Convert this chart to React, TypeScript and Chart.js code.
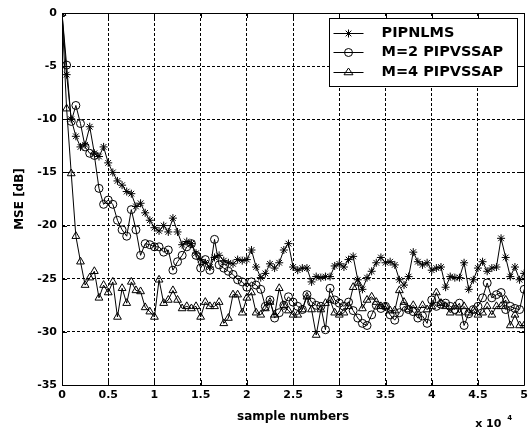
import { useEffect, useRef } from 'react';
import { Chart, registerables } from 'chart.js';

Chart.register(...registerables);

// sample numbers are in units of 10^4; one recorded point every 0.05 x 10^4 samples
const sampleStep = 0.05;

const xTickValues = [0, 0.5, 1, 1.5, 2, 2.5, 3, 3.5, 4, 4.5, 5];
const yTickValues = [-35, -30, -25, -20, -15, -10, -5, 0];

const seriesLabels = ['PIPNLMS', 'M=2 PIPVSSAP', 'M=4 PIPVSSAP'];

const pipnlms = [
  0, -5.8, -10, -11.6, -12.6, -12.4, -10.7, -13.2, -13.5, -12.6,
  -14.1, -15, -15.8, -16.2, -16.8, -17, -18.2, -17.9, -18.8, -19.5,
  -20.2, -20.5, -20, -20.6, -19.3, -20.6, -21.8, -21.5, -21.7, -22.6,
  -23.2, -23.5, -23.9, -23, -22.8, -23.3, -23.5, -23.6, -23.2, -23.3,
  -23.2, -22.3, -23.9, -24.9, -24.5, -23.6, -24, -23.5, -22.3, -21.7,
  -23.9, -24.2, -24, -24, -25.3, -24.8, -24.9, -24.8, -24.8, -23.8,
  -23.6, -23.9, -23.2, -22.9, -25.1, -26, -24.9, -24.3, -23.5, -23,
  -23.5, -23.4, -23.7, -25.1, -25.6, -24.8, -22.5, -23.4, -23.7, -23.5,
  -24.2, -24, -23.9, -25.8, -24.8, -24.9, -24.9, -23.5, -26, -25.1,
  -24, -23.4, -24.3, -24, -23.9, -21.2, -23, -24.8, -23.9, -25.1,
  -24.5,
];

const m2Pipvssap = [
  0, -4.9, -10.2, -8.7, -10.4, -12.6, -13.2, -13.4, -16.5, -18,
  -17.6, -18, -19.5, -20.4, -21, -18.5, -20.4, -22.8, -21.7, -21.8,
  -22, -22, -22.5, -22.3, -24.2, -23.4, -22.8, -22, -21.7, -22.8,
  -24, -23.2, -24.2, -21.3, -23.7, -24, -24.3, -24.6, -25.1, -25.3,
  -25.8, -25.3, -25.6, -26, -27.6, -27, -28.7, -28.2, -27.5, -26.7,
  -27.2, -27.6, -27.9, -26.5, -27.2, -27.5, -27.6, -29.8, -25.9, -27,
  -27.3, -27.6, -27.2, -28, -28.7, -29.2, -29.4, -28.4, -27.5, -27.8,
  -27.6, -28.4, -28.9, -28.2, -27.6, -27.9, -28.1, -28.7, -28.5, -29.2,
  -27, -27.6, -27.4, -27.3, -27.6, -27.9, -27.3, -29.4, -28.3, -27.9,
  -27.6, -26.8, -25.4, -26.8, -26.5, -26.3, -27.9, -27.6, -27.8, -27.9,
  -26,
];

const m4Pipvssap = [
  0, -9, -15.1, -21, -23.4, -25.6, -24.9, -24.3, -26.8, -25.6,
  -26.3, -25.3, -28.6, -25.9, -27.3, -25.3, -26.1, -26.2, -27.7, -28.1,
  -28.6, -25.1, -27.3, -27, -26.1, -27, -27.8, -27.6, -27.8, -27.6,
  -28.6, -27.2, -27.6, -27.6, -27.2, -29.2, -28.7, -26.5, -26.5, -28.2,
  -26.8, -26.3, -28.2, -28.4, -27.8, -27.2, -28.4, -25.9, -27.5, -28,
  -28.4, -28.4, -27.9, -26.7, -27.9, -30.3, -27.9, -27.3, -27, -28.2,
  -28.4, -28.2, -27.6, -25.8, -25.4, -27.8, -27, -26.7, -27.2, -27.6,
  -27.6, -28, -28, -26.1, -27.2, -27.9, -27.5, -28.2, -27.5, -27.9,
  -27.6, -26.3, -27.3, -27.6, -28.2, -27.6, -28.2, -27.6, -28.2, -28,
  -28.4, -28.2, -27.6, -28.4, -27.6, -27.6, -27, -29.4, -28.4, -29.4,
  -29.4,
];

const pointStyles = ['star', 'circle', 'triangle'] as const;
const pointRadii = [4, 4, 4.5];

const FONT = 'DejaVu Sans';

function toPoints(values: number[]) {
  return values.map((y, i) => ({ x: Math.round(i * sampleStep * 1000) / 1000, y }));
}

function drawMarker(ctx: CanvasRenderingContext2D, style: string, x: number, y: number, r: number) {
  ctx.beginPath();
  if (style === 'circle') {
    ctx.arc(x, y, r, 0, Math.PI * 2);
  } else if (style === 'triangle') {
    const h = r * 1.5;
    ctx.moveTo(x, y - r);
    ctx.lineTo(x + r * 0.866 * 1.15, y + h - r);
    ctx.lineTo(x - r * 0.866 * 1.15, y + h - r);
    ctx.closePath();
  } else {
    for (let k = 0; k < 4; k++) {
      const a = (k * Math.PI) / 4;
      ctx.moveTo(x - Math.cos(a) * r, y - Math.sin(a) * r);
      ctx.lineTo(x + Math.cos(a) * r, y + Math.sin(a) * r);
    }
  }
  ctx.stroke();
}

const framePlugin = {
  id: 'matlabFrame',
  afterDraw(chart: any) {
    const { ctx, chartArea } = chart;
    const { left, right, top, bottom } = chartArea;
    const xs = chart.scales.x;
    const ys = chart.scales.y;
    ctx.save();
    ctx.strokeStyle = '#000';
    ctx.lineWidth = 1;
    ctx.setLineDash([]);
    ctx.beginPath();
    ctx.rect(Math.round(left) + 0.5, Math.round(top) + 0.5, Math.round(right - left), Math.round(bottom - top));
    ctx.stroke();
    // inner tick marks
    ctx.beginPath();
    xTickValues.forEach((v) => {
      const px = Math.round(xs.getPixelForValue(v)) + 0.5;
      ctx.moveTo(px, bottom);
      ctx.lineTo(px, bottom - 5);
      ctx.moveTo(px, top);
      ctx.lineTo(px, top + 5);
    });
    yTickValues.forEach((v) => {
      const py = Math.round(ys.getPixelForValue(v)) + 0.5;
      ctx.moveTo(left, py);
      ctx.lineTo(left + 5, py);
      ctx.moveTo(right, py);
      ctx.lineTo(right - 5, py);
    });
    ctx.stroke();

    // exponent label
    ctx.fillStyle = '#000';
    ctx.textBaseline = 'middle';
    ctx.textAlign = 'left';
    ctx.font = `bold 11px "${FONT}"`;
    ctx.fillText('x 10', right - 49, bottom + 39);
    ctx.font = `bold 7px "${FONT}"`;
    ctx.fillText('4', right - 17, bottom + 33);

    // legend box
    const bw = 188;
    const bh = 68;
    const bx = Math.round(right - 195) + 0.5;
    const by = Math.round(top + 5) + 0.5;
    ctx.fillStyle = '#fff';
    ctx.fillRect(bx, by, bw, bh);
    ctx.strokeStyle = '#000';
    ctx.strokeRect(bx, by, bw, bh);
    chart.data.datasets.forEach((ds: any, i: number) => {
      const ry = Math.round(by + 14 + i * 19.5) + 0.5;
      ctx.strokeStyle = '#000';
      ctx.lineWidth = 1;
      ctx.beginPath();
      ctx.moveTo(bx + 4, ry);
      ctx.lineTo(bx + 34, ry);
      ctx.stroke();
      drawMarker(ctx, pointStyles[i], bx + 19, ry, pointRadii[i]);
      ctx.fillStyle = '#000';
      ctx.font = `bold 14.5px "${FONT}"`;
      ctx.textAlign = 'left';
      ctx.textBaseline = 'middle';
      ctx.fillText(ds.label, bx + 52, ry);
    });
    ctx.restore();
  },
};

export default function App() {
  const ref = useRef<HTMLCanvasElement | null>(null);

  useEffect(() => {
    if (!ref.current) return;
    const seriesValues = [pipnlms, m2Pipvssap, m4Pipvssap];
    const chart = new Chart(ref.current, {
      type: 'line',
      data: {
        datasets: seriesValues.map((vals, i) => ({
          label: seriesLabels[i],
          data: toPoints(vals),
          borderColor: '#000',
          borderWidth: 1,
          backgroundColor: 'rgba(0,0,0,0)',
          pointStyle: pointStyles[i],
          pointRadius: pointRadii[i],
          pointBorderColor: '#000',
          pointBackgroundColor: 'rgba(0,0,0,0)',
          pointBorderWidth: 1,
          tension: 0,
          fill: false,
        })),
      },
      options: {
        responsive: false,
        animation: false,
        layout: { padding: { top: 13, right: 6, left: 0, bottom: 0 } },
        plugins: {
          legend: { display: false },
          tooltip: { enabled: false },
        },
        scales: {
          x: {
            type: 'linear',
            min: 0,
            max: 5,
            afterFit: (s: any) => {
              s.height = 45;
            },
            afterBuildTicks: (s: any) => {
              s.ticks = xTickValues.map((v) => ({ value: v }));
            },
            ticks: {
              color: '#000',
              font: { family: FONT, size: 11, weight: 'bold' },
              padding: 4,
              maxRotation: 0,
              autoSkip: false,
              callback: (v: any) => String(Number(v)),
            },
            grid: {
              color: '#000',
              lineWidth: 1,
              drawTicks: false,
            },
            border: { display: false, dash: [3, 2] },
            title: {
              display: true,
              text: 'sample numbers',
              color: '#000',
              font: { family: FONT, size: 12, weight: 'bold' },
              padding: { top: 0, bottom: 6 },
            },
          },
          y: {
            type: 'linear',
            min: -35,
            max: 0,
            afterFit: (s: any) => {
              s.width = 62;
            },
            afterBuildTicks: (s: any) => {
              s.ticks = yTickValues.map((v) => ({ value: v }));
            },
            ticks: {
              color: '#000',
              font: { family: FONT, size: 11, weight: 'bold' },
              padding: 5,
              callback: (v: any) => String(Number(v)),
            },
            grid: {
              color: '#000',
              lineWidth: 1,
              drawTicks: false,
            },
            border: { display: false, dash: [3, 2] },
            title: {
              display: true,
              text: 'MSE [dB]',
              color: '#000',
              font: { family: FONT, size: 12, weight: 'bold' },
              padding: { top: 13, bottom: 0 },
            },
          },
        },
      },
      plugins: [framePlugin],
    } as any);
    return () => chart.destroy();
  }, []);

  return (
    <div style={{ position: 'absolute', left: 0, top: 0, width: 532, height: 430, background: '#fff' }}>
      <canvas ref={ref} width={532} height={430} />
    </div>
  );
}
